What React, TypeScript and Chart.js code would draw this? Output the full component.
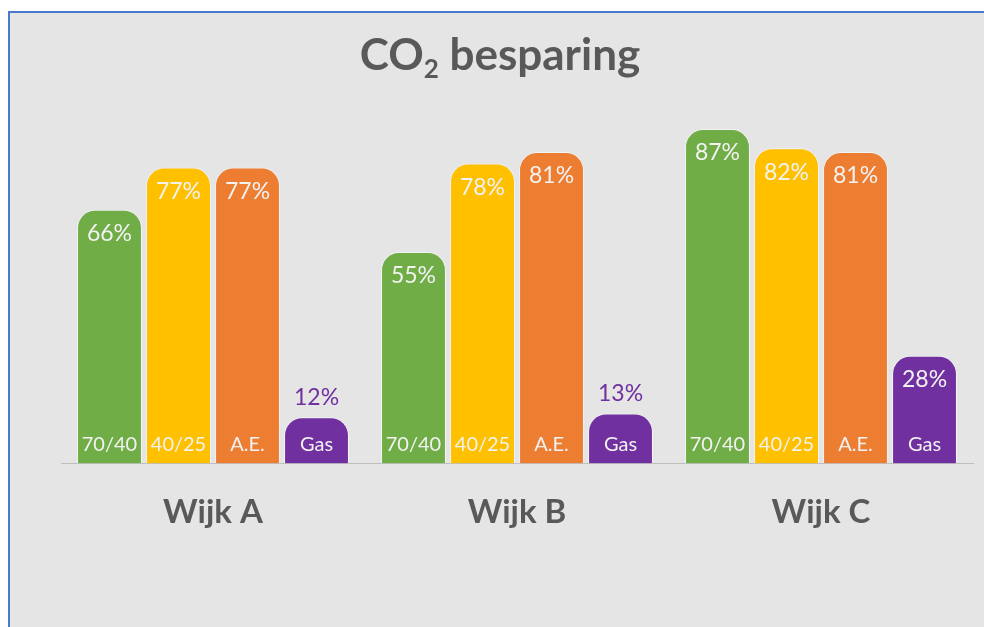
import { useEffect, useRef } from 'react';
import { Chart, registerables } from 'chart.js';

Chart.register(...registerables);

const categories = ['Wijk A', 'Wijk B', 'Wijk C'];
const seriesNames = ['70/40', '40/25', 'A.E.', 'Gas'];
const values7040 = [66, 55, 87];
const values4025 = [77, 78, 82];
const valuesAE = [77, 81, 81];
const valuesGas = [12, 13, 28];
const seriesColors = ['#70ad47', '#ffc000', '#ed7d31', '#7030a0'];
const titleMain = 'CO';
const titleSub = '2';
const titleRest = ' besparing';

const FONT = 'Lato, "Open Sans", sans-serif';

const titlePlugin = {
  id: 'subTitle',
  afterDraw(chart: any) {
    const ctx = chart.ctx;
    ctx.save();
    ctx.fillStyle = '#595959';
    ctx.textBaseline = 'alphabetic';
    ctx.textAlign = 'left';
    const big = `bold 44px ${FONT}`;
    const small = `bold 26px ${FONT}`;
    ctx.font = big;
    const w1 = ctx.measureText(titleMain).width;
    const w3 = ctx.measureText(titleRest).width;
    ctx.font = small;
    const w2 = ctx.measureText(titleSub).width;
    const total = w1 + w2 + w3;
    let x = 500 - total / 2;
    const y = 70;
    ctx.font = big;
    ctx.fillText(titleMain, x, y);
    x += w1;
    ctx.font = small;
    ctx.fillText(titleSub, x, y + 8);
    x += w2;
    ctx.font = big;
    ctx.fillText(titleRest, x, y);
    ctx.restore();
  },
};

const labelsPlugin = {
  id: 'barLabels',
  afterDatasetsDraw(chart: any) {
    const ctx = chart.ctx;
    ctx.save();
    ctx.textAlign = 'center';
    ctx.textBaseline = 'middle';
    chart.data.datasets.forEach((ds: any, di: number) => {
      const meta = chart.getDatasetMeta(di);
      meta.data.forEach((el: any, i: number) => {
        const v = ds.data[i];
        const { x, y, base } = el.getProps(['x', 'y', 'base'], true);
        const h = base - y;
        ctx.font = `20px ${FONT}`;
        ctx.fillStyle = '#f2f2f2';
        ctx.fillText(ds.label, x, base - 19);
        ctx.font = `23px ${FONT}`;
        if (h > 80) {
          ctx.fillStyle = '#f2f2f2';
          ctx.fillText(v + '%', x, y + 24);
        } else {
          ctx.fillStyle = seriesColors[di];
          ctx.fillText(v + '%', x, y - 20);
        }
      });
    });
    ctx.restore();
  },
};

export default function App() {
  const ref = useRef<HTMLCanvasElement>(null);
  useEffect(() => {
    if (!ref.current) return;
    const seriesValues = [values7040, values4025, valuesAE, valuesGas];
    const chart = new Chart(ref.current, {
      type: 'bar',
      data: {
        labels: categories,
        datasets: seriesNames.map((name, i) => ({
          label: name,
          data: seriesValues[i],
          backgroundColor: seriesColors[i],
          borderColor: 'rgba(255,255,255,0.55)',
          borderWidth: 1,
          borderSkipped: 'bottom',
          borderRadius: { topLeft: 18, topRight: 18, bottomLeft: 0, bottomRight: 0 },
          categoryPercentage: 0.908,
          barPercentage: 0.94,
        })),
      },
      options: {
        animation: false,
        responsive: false,
        maintainAspectRatio: false,
        layout: { padding: { left: 61, right: 11, top: 79, bottom: 66 } },
        plugins: {
          legend: { display: false },
          tooltip: { enabled: false },
          title: { display: false },
        },
        scales: {
          x: {
            grid: { display: false, drawTicks: false },
            border: { display: true, color: '#bfbfbf', width: 1 },
            ticks: {
              color: '#595959',
              font: { family: FONT, size: 33, weight: 'bold' },
              padding: 29,
            },
          },
          y: {
            display: false,
            min: 0,
            max: 100,
          },
        },
      },
      plugins: [titlePlugin, labelsPlugin],
    });
    return () => chart.destroy();
  }, []);
  return (
    <div style={{ position: 'absolute', left: 0, top: 0, width: 984, height: 627, overflow: 'hidden', background: '#ffffff' }}>
      <div
        style={{
          position: 'absolute',
          left: 8,
          top: 11,
          width: 1000,
          height: 640,
          background: '#e5e5e5',
          borderLeft: '2px solid #4a78cf',
          borderTop: '2px solid #4a78cf',
        }}
      />
      <canvas ref={ref} width={984} height={627} style={{ position: 'absolute', left: 0, top: 0, width: 984, height: 627 }} />
    </div>
  );
}
